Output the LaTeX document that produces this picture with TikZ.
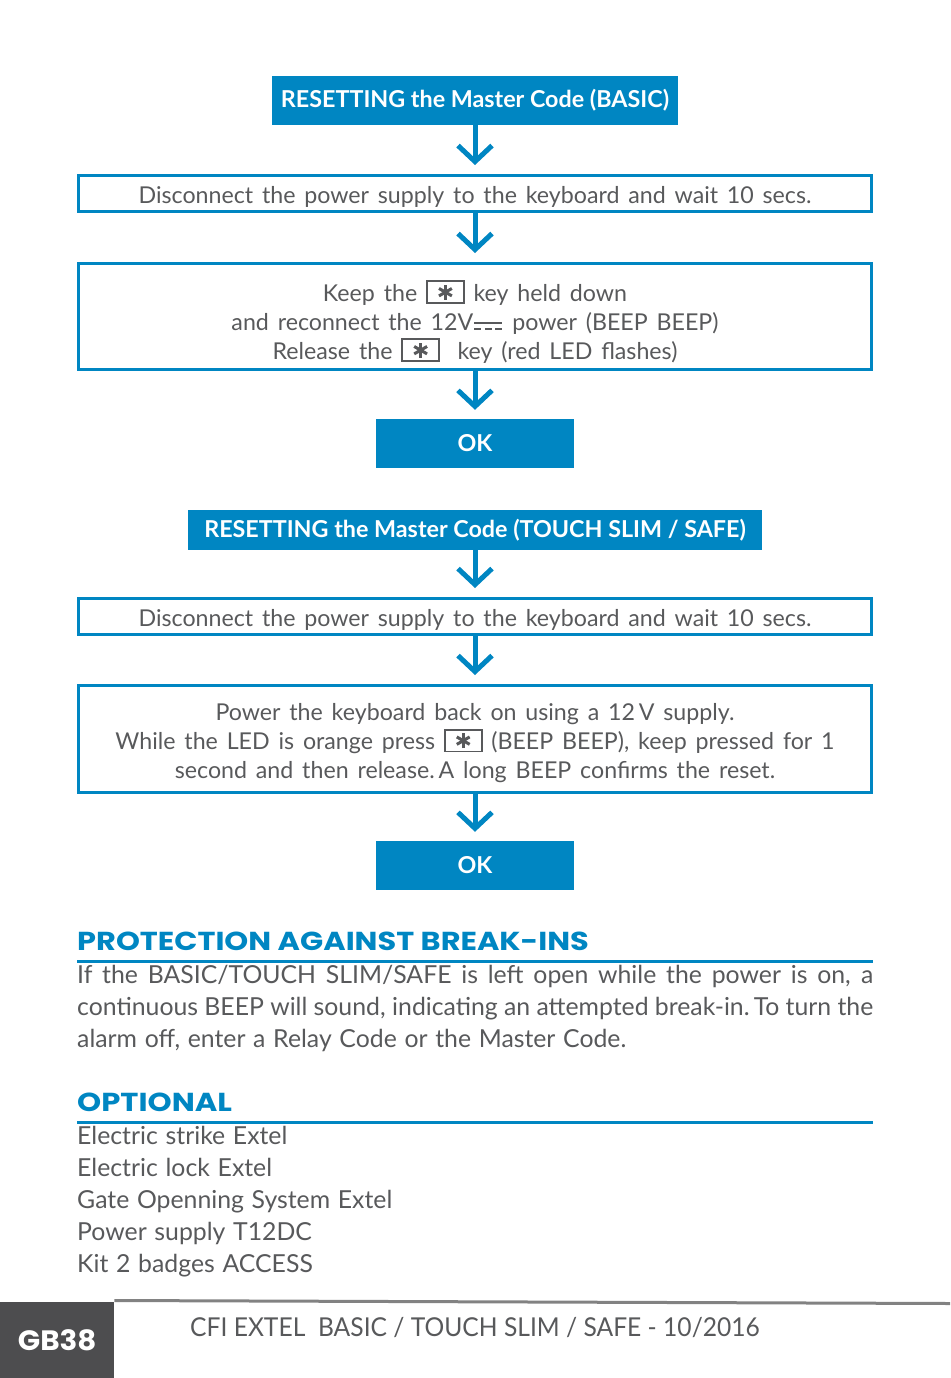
\documentclass[tikz,border=0pt]{standalone}
\usepackage{fontspec}
\setmainfont{Lato}
\newfontfamily\headfont{Poppins}
\usepackage{graphicx}
\usetikzlibrary{arrows.meta}
\definecolor{FlowClr}{RGB}{0,134,194}
\definecolor{TextClr}{RGB}{88,89,91}
\definecolor{FootClr}{RGB}{77,77,79}
\definecolor{RuleClr}{RGB}{130,130,130}

% key with a star, and the DC sign
\newcommand\keybar{\rule[-0.32em]{0.13em}{0.64em}}
\newcommand\keystar{\makebox[0pt]{\keybar}\makebox[0pt]{\rotatebox[origin=c]{60}{\keybar}}%
  \makebox[0pt]{\rotatebox[origin=c]{-60}{\keybar}}}
\newcommand\starkey{\raisebox{-1pt}[0.7em][0pt]{\setlength\fboxsep{0pt}\setlength\fboxrule{1.8pt}%
  \fbox{\parbox[b][20pt][c]{35pt}{\centering\keystar}}}}
\newcommand\dcsym{\kern0.05em\rlap{\rule[0.28em]{1.2em}{0.09em}}%
  \rule[0.02em]{0.3em}{0.09em}\kern0.15em\rule[0.02em]{0.3em}{0.09em}\kern0.15em\rule[0.02em]{0.3em}{0.09em}\kern0.05em}
\newcommand\boxspace{\spaceskip=0.38em plus 0.1em minus 0.05em\relax}
\newcommand\bodyspace{\spaceskip=0.31em plus 0.2em minus 0.08em\relax}

\begin{document}
\begin{tikzpicture}[x=1pt,y=-1pt,
  FlowTitle/.style={fill=FlowClr,text=white,inner sep=0pt,font=\fontsize{23.3}{26}\selectfont\bfseries},
  FlowBox/.style={draw=FlowClr,line width=3pt,minimum width=793pt,inner sep=0pt,align=center,text=TextClr,
    font=\fontsize{23.2}{29}\selectfont\boxspace,execute at begin node={\rule{0pt}{1em}}},
  FlowArrow/.style={draw=FlowClr,line width=5pt,-{Straight Barb[length=16pt,width=34pt]},shorten >=9pt},
  Heading/.style={anchor=base west,inner sep=0pt,text=FlowClr,font=\headfont\fontsize{26}{30}\selectfont\bfseries},
  HeadRule/.style={draw=FlowClr,line width=3pt},
  BodyLine/.style={anchor=base west,inner sep=0pt,text=TextClr,font=\fontsize{24.8}{32}\selectfont\bodyspace}]
\useasboundingbox (0,0) rectangle (950,1378);

% BASIC
\node[FlowTitle,minimum width=406pt,minimum height=49pt] (T1) at (475,100.5) {RESETTING the Master Code (BASIC)};
\node[FlowBox,minimum height=36pt] (S1) at (475,193.5) {Disconnect the power supply to the keyboard and wait 10 secs.};
\node[FlowBox,minimum height=106pt] (S2) at (475,316.5) {\rule{0pt}{1.35em}Keep the \starkey\ key held down\\
  and reconnect the 12V\dcsym\ power (BEEP BEEP)\\
  Release the \starkey\ \ key (red LED flashes)};
\node[FlowTitle,minimum width=198pt,minimum height=49pt] (OK1) at (475,443.5) {OK};

% TOUCH SLIM / SAFE
\node[FlowTitle,minimum width=574pt,minimum height=40pt] (T2) at (475,530) {RESETTING the Master Code (TOUCH SLIM / SAFE)};
\node[FlowBox,minimum height=36pt] (S3) at (475,616.5) {Disconnect the power supply to the keyboard and wait 10 secs.};
\node[FlowBox,minimum height=107pt] (S4) at (475,739) {\rule{0pt}{1.1em}Power the keyboard back on using a 12\,V supply.\\
  While the LED is orange press \starkey\ (BEEP BEEP), keep pressed for 1\\
  second and then release.\,A long BEEP confirms the reset.};
\node[FlowTitle,minimum width=198pt,minimum height=49pt] (OK2) at (475,865.5) {OK};

\draw[FlowArrow] (T1) -- (S1);
\draw[FlowArrow] (S1) -- (S2);
\draw[FlowArrow] (S2) -- (OK1);
\draw[FlowArrow] (T2) -- (S3);
\draw[FlowArrow] (S3) -- (S4);
\draw[FlowArrow] (S4) -- (OK2);

% protection
\node[Heading] (H1) at (77,950) {\scalebox{1.17}[1]{PROTECTION AGAINST BREAK-INS}};
\coordinate (H1a) at (77,961.5);
\coordinate (H1b) at (873,961.5);
\draw[HeadRule] (H1a) -- (H1b);
\node[BodyLine] (P1) at (77,983) {\makebox[796pt][s]{If the BASIC/TOUCH SLIM/SAFE is left open while the power is on, a}};
\node[BodyLine] (P2) at (77,1015) {\makebox[796pt][s]{continuous BEEP will sound, indicating an attempted break-in.\,To turn the}};
\node[BodyLine] (P3) at (77,1047) {alarm off, enter a Relay Code or the Master Code.};

% optional
\node[Heading] (H2) at (77,1111) {\scalebox{1.18}[1]{OPTIONAL}};
\coordinate (H2a) at (77,1122.5);
\coordinate (H2b) at (873,1122.5);
\draw[HeadRule] (H2a) -- (H2b);
\foreach \txt [count=\i] in {Electric strike Extel,Electric lock Extel,Gate Openning System Extel,Power supply T12DC,Kit 2 badges ACCESS}
  \node[BodyLine] (L\i) at (77,1144+32*\i-32) {\txt};

% footer
\node[fill=FootClr,text=white,anchor=north west,minimum width=114pt,minimum height=76pt,inner sep=0pt,
  font=\headfont\fontsize{28}{30}\selectfont\bfseries] (GB) at (0,1302) {\scalebox{1.05}[1]{GB38}};
\coordinate (FootEnd) at (950,1303.5);
\draw[RuleClr,line width=3pt] (GB.north east) ++(0,-1.5) -- (FootEnd);
\node[anchor=base west,inner sep=0pt,text=TextClr,font=\fontsize{26}{30}\selectfont] (FT) at (190,1336)
  {\scalebox{0.947}[1]{CFI EXTEL\ \ BASIC / TOUCH SLIM / SAFE - 10/2016}};
\end{tikzpicture}
\end{document}
